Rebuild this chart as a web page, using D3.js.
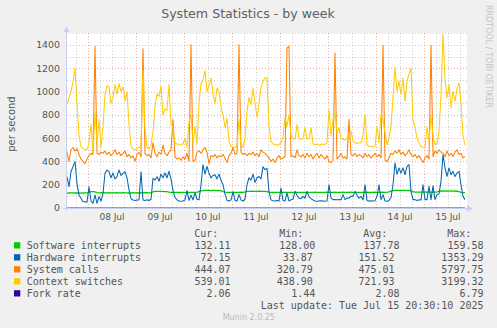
<!DOCTYPE html>
<html><head><meta charset="utf-8">
<script src="https://cdn.jsdelivr.net/npm/d3@7"></script>
<style>html,body{margin:0;padding:0;background:#F0F0F0;} svg{display:block}</style>
</head><body><div id="chart"></div>
<script>
// ---------- data ----------
const seriesNames = ["Software interrupts","Hardware interrupts","System calls","Context switches","Fork rate"];
const seriesColors = ["#00CC00","#0066B3","#FF8000","#FFCC00","#330099"];
const curValues = ["132.11","72.15","444.07","539.01","2.06"];
const minValues = ["128.00","33.87","320.79","438.90","1.44"];
const avgValues = ["137.78","151.52","475.01","721.93","2.08"];
const maxValues = ["159.58","1353.29","5797.75","3199.32","6.79"];
const yTicks = [0,200,400,600,800,1000,1200,1400];
const titleText = "System Statistics - by week";
const yLabel = "per second";
const lastUpdate = "Last update: Tue Jul 15 20:30:10 2025";
const startTime = Date.UTC(2025,6,7,13,30);   // first sample, Jul 7 13:30
const spanHours = 200;
const hours = d3.range(200);                    // hourly sample offsets

const softIrq = [
128,129,130,130,129,130,129,128,129,130,
130,135,140,141,138,132,130,131,130,131,
130,131,130,129,130,131,130,130,131,130,
130,129,130,131,130,129,130,131,130,132,
131,130,132,138,142,143,143,142,143,140,
141,137,135,134,135,134,135,134,135,134,
135,134,135,134,135,136,140,148,150,152,
151,152,150,151,152,150,151,148,140,136,
135,134,135,134,135,134,135,136,135,138,
142,143,144,143,142,143,144,143,142,143,
140,136,134,133,134,135,134,133,134,135,
134,135,134,133,134,135,134,135,134,133,
134,135,134,135,136,135,134,135,134,135,
136,135,134,135,136,135,134,135,136,135,
134,135,136,135,134,135,134,135,134,135,
136,135,134,135,136,135,134,135,136,135,
136,138,145,150,152,151,152,150,152,151,
150,151,148,140,137,136,137,136,137,138,
137,136,137,138,137,138,142,146,146,145,
146,145,146,145,146,144,140,135,133,132];

const hardIrq = [
269,183,312,355,398,210,112,83,54,54,
50,183,60,40,112,40,97,60,126,298,
326,312,260,300,250,270,326,280,298,312,
260,155,80,69,65,69,70,312,69,65,
70,65,75,255,240,269,230,290,260,300,
260,315,250,150,90,70,60,58,60,70,
150,65,110,70,130,75,70,200,372,290,
358,300,258,280,286,250,290,240,200,120,
65,60,70,140,65,60,115,70,60,75,
200,260,240,290,220,260,270,250,355,330,
340,140,70,62,60,65,60,172,65,60,
129,60,70,75,143,110,85,80,100,85,
143,95,80,70,60,58,60,62,60,58,
60,200,85,72,72,70,72,70,115,72,
85,85,100,100,143,110,85,100,70,200,
65,60,62,60,62,100,200,72,115,60,
58,65,90,200,387,290,344,300,344,286,
358,372,143,72,72,65,70,68,200,72,
72,186,72,190,72,115,120,229,460,344,
272,344,286,315,270,300,315,200,100,72];

const sysCalls = [
480,400,500,520,490,510,460,420,400,380,
420,450,470,460,1390,470,460,480,470,490,
460,480,450,470,500,460,480,450,470,490,
440,460,430,450,400,460,480,440,1367,470,
450,460,430,560,470,440,480,460,540,470,
450,480,500,760,440,420,430,410,440,420,
470,400,1404,400,410,480,490,470,500,520,
480,380,450,440,460,430,450,440,460,430,
390,450,470,520,460,470,1404,480,460,470,
450,470,460,480,450,470,440,500,480,470,
450,430,400,420,390,430,450,420,430,440,
1375,1390,440,450,430,500,450,440,460,430,
470,440,460,420,450,470,430,460,440,420,
450,400,390,410,1332,420,440,470,430,440,
420,760,460,450,470,440,460,450,430,470,
440,460,430,450,470,440,460,430,1398,410,
400,430,470,460,490,470,500,460,480,450,
470,500,460,440,460,430,450,420,390,430,
450,420,1398,440,490,470,500,480,470,440,
490,450,470,440,480,500,460,470,430,444];

const ctxSwitch = [
890,950,1000,1080,1200,900,620,530,510,500,
500,560,720,480,820,560,760,520,700,980,
1050,1040,900,950,1060,980,1070,1000,1040,920,
1000,720,530,510,500,510,520,540,1180,680,
520,510,540,650,880,980,960,1050,800,850,
840,1060,720,700,560,550,540,545,550,600,
520,740,800,560,700,550,900,1070,1100,1180,
1000,1050,1117,980,900,1030,1000,870,800,690,
770,570,530,525,520,530,760,540,520,600,
830,950,890,1030,900,780,900,1040,1090,1117,
1120,700,573,550,545,540,545,560,610,780,
700,800,620,600,590,716,600,590,595,690,
590,600,690,550,545,550,540,545,550,545,
560,845,620,760,820,640,690,600,590,585,
600,640,660,580,560,555,560,560,620,800,
540,530,530,525,530,700,560,800,760,650,
545,600,700,950,1210,1000,1090,975,1117,917,
1090,1150,1200,750,690,600,560,530,520,515,
700,560,800,620,545,560,650,975,1490,1117,
945,1060,860,1003,917,1030,1075,900,620,539];

const forkHours = [0,8,16,24,32,40,48,56,64,72,80,88,96,104,112,120,128,136,144,152,160,168,176,184,192,199];
const forkRate  = [2.1,2.0,2.2,2.1,1.9,2.3,2.0,2.1,2.2,2.0,1.9,2.1,2.2,2.0,2.1,1.9,2.0,2.1,2.0,1.9,2.2,2.1,2.0,2.2,2.1,2.06];

// ---------- layout ----------
const W = 497, H = 328;
const plotL = 67, plotR = 467, plotB = 208, plotT = 33.4;
const TXT = "#555555";
const svg = d3.select("#chart").append("svg").attr("width", W).attr("height", H);
svg.append("rect").attr("width", W).attr("height", H).attr("fill", "#F0F0F0");

const x = d3.scaleUtc().domain([startTime, startTime + spanHours*3600e3]).range([plotL, plotR]);
const y = d3.scaleLinear().domain([0, 1500]).range([plotB, plotT]);

svg.append("rect").attr("x", plotL).attr("y", 33).attr("width", plotR - plotL).attr("height", plotB - 33).attr("fill", "#FFFFFF");

// horizontal grid
const gridG = svg.append("g");
d3.range(100, 1501, 100).forEach(v => {
  const yy = Math.round(y(v)) + 0.5;
  const major = v % 200 === 0;
  gridG.append("line").attr("x1", plotL).attr("x2", plotR).attr("y1", yy).attr("y2", yy)
    .attr("stroke", major ? "rgba(225,70,70,0.42)" : "rgba(140,140,140,0.4)")
    .attr("stroke-dasharray", "1,2");
});
// vertical grid
d3.utcHour.every(6).range(x.domain()[0], x.domain()[1]).forEach(t => {
  const xx = Math.round(x(t)) + 0.5;
  const major = t.getUTCHours() === 0;
  gridG.append("line").attr("x1", xx).attr("x2", xx).attr("y1", 33).attr("y2", plotB)
    .attr("stroke", major ? "rgba(225,70,70,0.42)" : "rgba(140,140,140,0.4)")
    .attr("stroke-dasharray", "1,2");
});

// x labels at noon
const fmt = d3.utcFormat("%d %b");
d3.utcDay.range(x.domain()[0], x.domain()[1]).forEach(d => {
  const noon = new Date(+d + 12*3600e3);
  if (x(noon) < plotL + 5 || x(noon) > plotR - 5) return;
  svg.append("text").attr("x", x(noon)).attr("y", 219.7).attr("text-anchor", "middle")
    .attr("font-family", "DejaVu Sans").attr("font-size", 9).attr("fill", TXT).text(fmt(noon));
});
// y labels
yTicks.forEach(v => {
  svg.append("text").attr("x", 60).attr("y", y(v) + 3.4).attr("text-anchor", "end")
    .attr("font-family", "DejaVu Sans").attr("font-size", 9.4).attr("fill", TXT).text(v);
});

// series
const clip = svg.append("clipPath").attr("id", "pc").append("rect")
  .attr("x", plotL).attr("y", 30).attr("width", plotR - plotL + 1).attr("height", plotB - 30 + 2);
const lineG = svg.append("g").attr("clip-path", "url(#pc)");
const mk = (hrs) => d3.line().x((d, i) => x(startTime + hrs[i]*3600e3)).y(d => y(d));
const seriesData = [[softIrq, hours], [hardIrq, hours], [sysCalls, hours], [ctxSwitch, hours], [forkRate, forkHours]];
seriesData.forEach(([vals, hrs], i) => {
  lineG.append("path").attr("d", mk(hrs)(vals)).attr("fill", "none")
    .attr("stroke", seriesColors[i]).attr("stroke-width", i === 0 ? 1.3 : 1.05)
    .attr("stroke-opacity", i === 4 ? 0.55 : 1).attr("stroke-linejoin", "round");
});

// axes + arrows
const AX = "#C8D0F4";
svg.append("line").attr("x1", 63).attr("x2", 468).attr("y1", 208.5).attr("y2", 208.5).attr("stroke", AX);
svg.append("line").attr("x1", 66.5).attr("x2", 66.5).attr("y1", 211).attr("y2", 31).attr("stroke", AX);
svg.append("path").attr("d", "M467,205L472.5,208.5L467,212Z").attr("fill", AX);
svg.append("path").attr("d", "M63.5,32L66.5,26.5L69.5,32Z").attr("fill", AX);

// title & labels
svg.append("text").attr("x", 248).attr("y", 18.3).attr("text-anchor", "middle")
  .attr("font-family", "DejaVu Sans").attr("font-size", 12.6).attr("fill", "#606060").text(titleText);
svg.append("text").attr("transform", "translate(15,124) rotate(-90)").attr("text-anchor", "middle")
  .attr("font-family", "DejaVu Sans").attr("font-size", 10).attr("fill", TXT).text(yLabel);
svg.append("text").attr("transform", "translate(486,5) rotate(90)").attr("text-anchor", "start")
  .attr("font-family", "DejaVu Sans").attr("font-size", 8).attr("fill", "#C4C4C4").text("RRDTOOL / TOBI OETIKER");

// legend
const mono = "DejaVu Sans Mono";
const hdrs = [["Cur:", 194.3], ["Min:", 279.3], ["Avg:", 363.3], ["Max:", 447.3]];
hdrs.forEach(([t, xx]) => svg.append("text").attr("x", xx).attr("y", 237).attr("font-family", mono)
  .attr("font-size", 10).attr("fill", TXT).text(t));
seriesNames.forEach((n, i) => {
  const ry = 249 + i*12;
  svg.append("rect").attr("x", 14).attr("y", ry - 6.8).attr("width", 6.3).attr("height", 6.3).attr("fill", seriesColors[i]);
  svg.append("text").attr("x", 26.7).attr("y", ry).attr("font-family", mono).attr("font-size", 10).attr("fill", TXT).text(n);
  const tight = maxValues[i].length > 6;   // justified line with a wider last field
  const cols = [[curValues[i], 230.5], [minValues[i], tight ? 312.8 : 315.3], [avgValues[i], tight ? 394.5 : 399.5], [maxValues[i], 483.5]];
  cols.forEach(([t, xx]) => svg.append("text").attr("x", xx).attr("y", ry).attr("text-anchor", "end")
    .attr("font-family", mono).attr("font-size", 10).attr("fill", TXT).text(t));
});
svg.append("text").attr("x", 483.5).attr("y", 308.7).attr("text-anchor", "end").attr("font-family", mono)
  .attr("font-size", 10).attr("fill", TXT).text(lastUpdate);
svg.append("text").attr("x", 248.8).attr("y", 320).attr("text-anchor", "middle").attr("font-family", "DejaVu Sans")
  .attr("font-size", 8).attr("fill", "#BBBBBB").text("Munin 2.0.25");
</script></body></html>
